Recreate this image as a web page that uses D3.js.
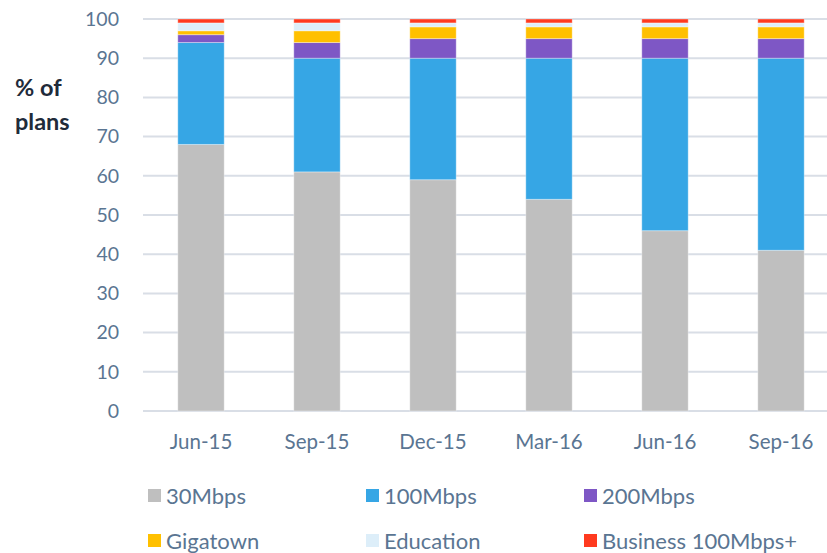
<!DOCTYPE html>
<html>
<head>
<meta charset="utf-8">
<script src="https://cdn.jsdelivr.net/npm/d3@7"></script>
<style>
  body { margin: 0; background: #fff; }
  svg { display: block; font-family: Lato, "Open Sans", sans-serif; }
</style>
</head>
<body>
<svg id="chart" width="827" height="553"></svg>
<script>
const quarters = ['Jun-15', 'Sep-15', 'Dec-15', 'Mar-16', 'Jun-16', 'Sep-16'];
const seriesNames = ['30Mbps', '100Mbps', '200Mbps', 'Gigatown', 'Education', 'Business 100Mbps+'];
const plan30 = [68, 61, 59, 54, 46, 41];
const plan100 = [26, 29, 31, 36, 44, 49];
const plan200 = [2, 4, 5, 5, 5, 5];
const gigatown = [1, 3, 3, 3, 3, 3];
const education = [2, 2, 1, 1, 1, 1];
const business = [1, 1, 1, 1, 1, 1];
const yTicks = [0, 10, 20, 30, 40, 50, 60, 70, 80, 90, 100];
const colors = ['#bfbfbf', '#36a6e5', '#7e57c5', '#ffc000', '#ddeef9', '#ff3a1f'];

const allSeries = [plan30, plan100, plan200, gigatown, education, business];
const rows = quarters.map((q, i) => {
  const r = { quarter: q };
  seriesNames.forEach((s, j) => { r[s] = allSeries[j][i]; });
  return r;
});

const svg = d3.select('#chart');
const x = d3.scaleBand().domain(quarters).range([143, 839]).paddingInner(0.6).paddingOuter(0.3);
const y = d3.scaleLinear().domain([0, 100]).range([411, 19]);
const textColor = '#5a7592';

// gridlines
svg.append('g')
  .selectAll('line')
  .data(yTicks.filter(d => d > 0))
  .join('line')
  .attr('x1', 143).attr('x2', 839)
  .attr('y1', d => y(d)).attr('y2', d => y(d))
  .attr('stroke', '#d9dee6').attr('stroke-width', 2);

// y axis labels
const yAxis = svg.append('g')
  .attr('transform', 'translate(119,0)')
  .call(d3.axisLeft(y).tickValues(yTicks).tickSize(0).tickPadding(0));
yAxis.select('.domain').remove();
yAxis.selectAll('text').attr('font-size', 19.5).attr('fill', textColor).attr('font-family', 'Lato, sans-serif');

// baseline
svg.append('line')
  .attr('x1', 143).attr('x2', 839).attr('y1', y(0)).attr('y2', y(0))
  .attr('stroke', '#d9dee6').attr('stroke-width', 2);

// stacked bars
const stacked = d3.stack().keys(seriesNames)(rows);
svg.append('g')
  .selectAll('g')
  .data(stacked)
  .join('g')
  .attr('fill', (d, i) => colors[i])
  .selectAll('rect')
  .data(d => d)
  .join('rect')
  .attr('x', d => x(d.data.quarter))
  .attr('width', x.bandwidth())
  .attr('y', d => y(d[1]))
  .attr('height', d => y(d[0]) - y(d[1]))
  .attr('stroke', '#fff').attr('stroke-opacity', 0.35).attr('stroke-width', 1);

// x axis labels
const xAxis = svg.append('g')
  .attr('transform', `translate(0,${y(0) + 18})`)
  .call(d3.axisBottom(x).tickSize(0).tickPadding(5));
xAxis.select('.domain').remove();
xAxis.selectAll('text').attr('font-size', 20.5).attr('fill', textColor).attr('font-family', 'Lato, sans-serif');

// axis title
svg.append('text')
  .attr('x', 15).attr('y', 96)
  .attr('font-size', 23.5).attr('font-weight', 'bold').attr('fill', '#1f2b3a')
  .selectAll('tspan')
  .data(['% of', 'plans'])
  .join('tspan')
  .attr('x', 15)
  .attr('dy', (d, i) => i === 0 ? 0 : 34)
  .text(d => d);

// legend
const legend = svg.append('g')
  .selectAll('g')
  .data(seriesNames)
  .join('g')
  .attr('transform', (d, i) => `translate(${148 + (i % 3) * 218},${496 + Math.floor(i / 3) * 45})`);
legend.append('rect')
  .attr('x', 0).attr('y', -7).attr('width', 13).attr('height', 13)
  .attr('fill', (d, i) => colors[i]);
legend.append('text')
  .attr('x', 18).attr('y', 0).attr('dy', '0.35em')
  .attr('font-size', 22).attr('fill', textColor)
  .text(d => d);
</script>
</body>
</html>
